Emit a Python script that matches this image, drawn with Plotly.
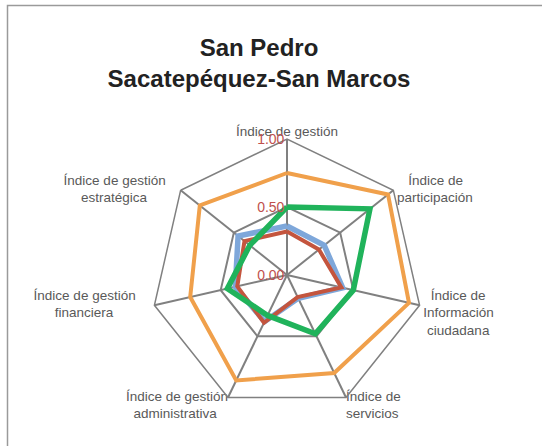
import plotly.graph_objects as go

categories = [
    "Índice de gestión",
    "Índice de<br>participación",
    "Índice de<br>Información<br>ciudadana",
    "Índice de<br>servicios",
    "Índice de gestión<br>administrativa",
    "Índice de gestión<br>financiera",
    "Índice de gestión<br>estratégica",
]

orange_vals = [0.75, 0.95, 0.92, 0.80, 0.86, 0.73, 0.82]
green_vals = [0.50, 0.78, 0.50, 0.48, 0.33, 0.45, 0.35]
blue_vals = [0.36, 0.35, 0.42, 0.19, 0.38, 0.39, 0.46]
red_vals = [0.32, 0.30, 0.41, 0.18, 0.39, 0.375, 0.40]

radial_range = [0, 1.0]
radial_ticks = [0, 0.5, 1.0]

# where each category label sits around its spoke end
label_pos = ["top center", "middle right", "middle right", "middle right",
             "middle left", "middle left", "middle left"]
label_gap = [0, 1, 1, 0, 0, 5, 4]      # extra space from the spoke end
label_drop = [0, 0, 1, 1, 1, 0, 0]     # blank lines pushed above the label

# rough Arial advance widths (1/1000 em) to centre multi-line labels
CHAR_W = {"Í": 278, "I": 278, "n": 556, "d": 556, "i": 222, "c": 500, "e": 556,
          " ": 278, "g": 556, "s": 500, "t": 278, "ó": 556, "p": 556, "a": 556,
          "r": 333, "f": 278, "o": 556, "m": 833, "u": 556, "v": 500, "é": 556}
NBSP = "\u00a0"


def text_w(s):
    return sum(CHAR_W.get(ch, 556) for ch in s)


def centred(label, pos, gap, drop):
    lines = label.split("<br>")
    wmax = max(text_w(ln) for ln in lines)
    out = [NBSP] * drop
    for ln in lines:
        pad = NBSP * round((wmax - text_w(ln)) / 2 / 278)
        if pos.endswith("right"):
            out.append(NBSP * gap + pad + ln)
        elif pos.endswith("left"):
            out.append(ln + pad + NBSP * gap)
        else:
            out.append(ln)
    return "<br>".join(out)


def closed(vals):
    return vals + vals[:1]


cats = closed(categories)

fig = go.Figure()
series = [
    (orange_vals, "#f0a04b", 4),
    (blue_vals, "#7ea7da", 5.5),
    (red_vals, "#c4553e", 4),
    (green_vals, "#20b35b", 5.5),
]
for vals, color, width in series:
    fig.add_trace(go.Scatterpolar(
        r=closed(vals), theta=cats, mode="lines",
        line=dict(color=color, width=width),
        showlegend=False, hoverinfo="skip",
    ))

# category labels at the outer ring
fig.add_trace(go.Scatterpolar(
    r=[radial_range[1]] * len(categories), theta=categories, mode="text",
    text=[centred(c, p, g, d) for c, p, g, d in
          zip(categories, label_pos, label_gap, label_drop)],
    textposition=label_pos, cliponaxis=False,
    textfont=dict(family="Liberation Sans, Arial", size=13.5, color="#595959"),
    showlegend=False, hoverinfo="skip",
))

W, H = 542, 446
cx, cy, half = 287, 275, 136

fig.update_layout(
    width=W, height=H,
    margin=dict(l=0, r=0, t=0, b=0),
    paper_bgcolor="white",
    plot_bgcolor="white",
    title=dict(
        text="<b>San Pedro<br>Sacatepéquez-San Marcos</b>",
        x=259 / W, xanchor="center",
        y=1 - 56 / H, yanchor="top",
        font=dict(family="Liberation Sans, Arial", size=24, color="#222222"),
    ),
    polar=dict(
        domain=dict(x=[(cx - half) / W, (cx + half) / W],
                    y=[(H - cy - half) / H, (H - cy + half) / H]),
        bgcolor="white",
        gridshape="linear",
        angularaxis=dict(
            rotation=90, direction="clockwise",
            linecolor="#808080", linewidth=1.5,
            gridcolor="#808080", gridwidth=1.5,
            showticklabels=False, ticks="",
        ),
        radialaxis=dict(
            range=radial_range, tickvals=radial_ticks, tickformat=".2f",
            angle=90, tickangle=90, side="counterclockwise",
            showline=False, gridcolor="#808080", gridwidth=1.5,
            tickfont=dict(family="Liberation Sans, Arial", size=14, color="#c0504d"),
            ticks="",
        ),
    ),
    shapes=[dict(
        type="rect", xref="paper", yref="paper",
        x0=7.5 / W, x1=1.01, y0=-0.01, y1=1 - 5.5 / H,
        line=dict(color="#9a9a9a", width=1.5),
    )],
)

fig.write_html("out.html", config={"displayModeBar": False},
               post_script="document.body.style.margin = '0px';")
